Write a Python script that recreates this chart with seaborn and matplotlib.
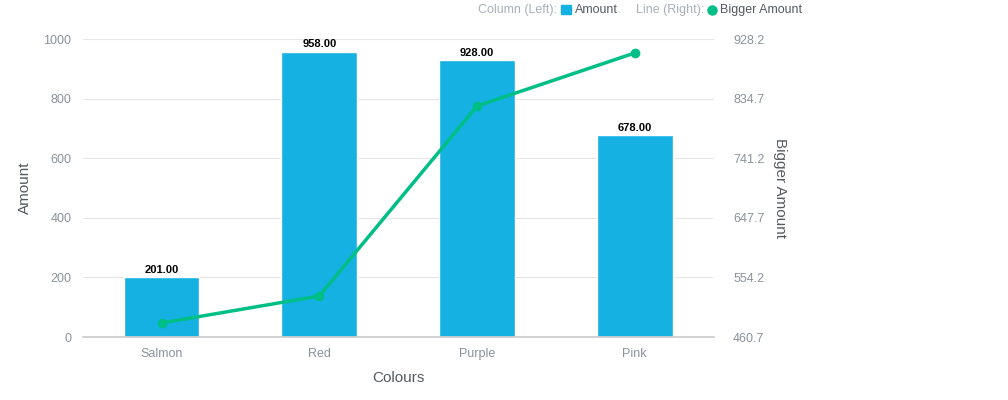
import matplotlib
matplotlib.use("Agg")
import matplotlib.pyplot as plt
import seaborn as sns
import pandas as pd
from matplotlib.lines import Line2D

categories = ["Salmon", "Red", "Purple", "Pink"]
amount = [201.0, 958.0, 928.0, 678.0]
bigger_amount = [482.7, 525.0, 823.1, 906.3]
left_ticks = [0, 200, 400, 600, 800, 1000]
right_ticks = [460.7, 554.2, 647.7, 741.2, 834.7, 928.2]

sns.set_theme(style="white")
plt.rcParams['font.family'] = ['Liberation Sans', 'DejaVu Sans']
bar_c = "#14b1e2"
line_c = "#00bf86"
tick_c = "#8a929c"

df = pd.DataFrame({"Colours": categories, "Amount": amount, "Bigger": bigger_amount})
fig = plt.figure(figsize=(10.08, 4.0), dpi=100)
ax = fig.add_axes([0.082, 0.1575, 0.626, 0.745])
sns.barplot(data=df, x="Colours", y="Amount", color=bar_c, width=0.48, ax=ax, saturation=1)
for i, v in enumerate(amount):
    ax.text(i, v + 8, f"{v:.2f}", ha="center", va="bottom", fontsize=8, fontweight="bold", color="black")
ax.set_ylim(0, 1000)
ax.set_yticks(left_ticks)
ax.set_xlim(-0.5, 3.5)
ax.grid(axis="y", color="#e6e6e6", lw=0.8)
ax.set_axisbelow(True)
for s in ["top", "right", "left"]:
    ax.spines[s].set_visible(False)
ax.spines["bottom"].set_color("#cccccc")
ax.tick_params(axis="both", colors=tick_c, labelsize=9, length=0, pad=8)
ax.set_xlabel("Colours", color="#555a60", fontsize=11, labelpad=8)
ax.set_ylabel("Amount", color="#555a60", fontsize=11, labelpad=8)

ax2 = ax.twinx()
sns.lineplot(x=list(range(len(categories))), y=bigger_amount, ax=ax2, color=line_c, lw=2.5,
             marker="o", markersize=7, markeredgewidth=0)
ax2.set_ylim(right_ticks[0], right_ticks[-1])
ax2.set_yticks(right_ticks)
ax2.set_yticklabels([f"{t:.1f}" for t in right_ticks])
for s in ["top", "right", "left", "bottom"]:
    ax2.spines[s].set_visible(False)
ax2.tick_params(axis="y", colors=tick_c, labelsize=9, length=0, pad=14)
ax2.set_ylabel("Bigger Amount", color="#555a60", fontsize=11, rotation=270, labelpad=16)

# legend row
fig.text(0.552, 0.975, "Column (Left):", color="#aab0b8", fontsize=9, ha="right", va="center")
fig.patches.append(plt.Rectangle((0.557, 0.964), 0.009, 0.0225, color=bar_c, transform=fig.transFigure, figure=fig))
fig.text(0.570, 0.975, "Amount", color="#555a60", fontsize=9, va="center")
fig.text(0.631, 0.975, "Line (Right):", color="#aab0b8", fontsize=9, va="center")
fig.lines.append(Line2D([0.706], [0.975], marker="o", color=line_c, markersize=6.5, transform=fig.transFigure, figure=fig))
fig.text(0.714, 0.975, "Bigger Amount", color="#555a60", fontsize=9, va="center")

fig.savefig("out.png", dpi=100)
